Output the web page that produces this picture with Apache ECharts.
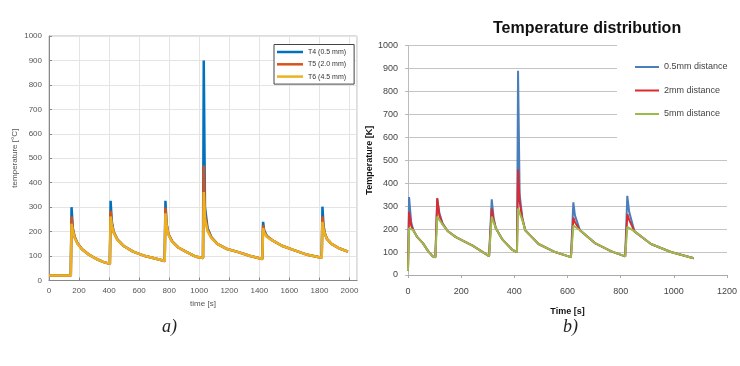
<!DOCTYPE html>
<html>
<head>
<meta charset="utf-8">
<script src="https://cdn.jsdelivr.net/npm/echarts@6/dist/echarts.min.js"></script>
<style>
  html, body { margin: 0; padding: 0; background: #fff; }
  #main { width: 740px; height: 366px; }
</style>
</head>
<body>
<div id="main"></div>
<script>
// a) 测量数据 time [s] / temperature [°C]
var timeA = [0, 145, 150, 158, 170, 190, 220, 260, 310, 360, 405,
    410, 418, 430, 455, 500, 560, 640, 720, 770,
    775, 782, 795, 820, 860, 920, 980, 1025,
    1030, 1038, 1055, 1080, 1120, 1180, 1260, 1340, 1420,
    1425, 1432, 1450, 1490, 1550, 1630, 1720, 1815,
    1820, 1827, 1835, 1850, 1880, 1930, 1990, 2050];
var t4 = [20, 20, 300, 215, 180, 152, 128, 108, 90, 76, 68,
    326, 240, 200, 168, 140, 118, 100, 88, 80,
    326, 235, 190, 160, 135, 115, 97, 92,
    900, 300, 215, 178, 150, 130, 116, 100, 88,
    240, 205, 182, 163, 142, 124, 105, 93,
    302, 225, 195, 170, 150, 132, 118];
var t5 = [20, 20, 262, 210, 178, 151, 128, 108, 90, 76, 68,
    285, 232, 198, 167, 140, 118, 100, 88, 80,
    298, 230, 188, 159, 135, 115, 97, 92,
    470, 270, 208, 176, 150, 130, 116, 100, 88,
    226, 200, 180, 163, 142, 124, 105, 93,
    262, 218, 193, 170, 150, 132, 118];
var t6 = [20, 20, 232, 205, 176, 150, 128, 108, 90, 76, 68,
    262, 226, 196, 166, 140, 118, 100, 88, 80,
    275, 226, 186, 158, 135, 115, 97, 92,
    362, 252, 202, 174, 150, 130, 116, 100, 88,
    215, 196, 178, 163, 142, 124, 105, 93,
    240, 212, 191, 170, 150, 132, 118];

// b) 模拟数据 Time [s] / Temperature [K]
var timeB = [0, 4, 12, 20, 35, 56, 75, 93, 103,
    110, 118, 130, 149, 180, 243, 305, 310,
    315, 322, 330, 355, 392, 410,
    414, 420, 430, 441, 466, 491, 553, 613, 618,
    622, 628, 647, 703, 765, 817, 820,
    825, 832, 852, 914, 989, 1075];
var d05 = [20, 340, 230, 195, 165, 139, 105, 81, 77,
    330, 270, 225, 192, 165, 128, 82, 78,
    330, 250, 205, 155, 110, 100,
    890, 350, 250, 195, 165, 135, 100, 78, 76,
    317, 260, 195, 139, 103, 81, 80,
    345, 275, 190, 135, 100, 73];
var d2 = [20, 275, 215, 195, 165, 139, 105, 81, 77,
    335, 260, 222, 192, 165, 128, 82, 78,
    290, 240, 205, 155, 110, 100,
    460, 320, 245, 195, 165, 135, 100, 78, 76,
    250, 230, 195, 139, 103, 81, 80,
    265, 240, 190, 135, 100, 73];
var d5 = [20, 205, 200, 195, 165, 139, 105, 81, 77,
    255, 240, 220, 192, 165, 128, 82, 78,
    255, 230, 205, 155, 110, 100,
    290, 270, 240, 195, 165, 135, 100, 78, 76,
    215, 210, 195, 139, 103, 81, 80,
    210, 205, 190, 135, 100, 73];

var namesA = ['T4 (0.5 mm)', 'T5 (2.0 mm)', 'T6 (4.5 mm)'];
var namesB = ['0.5mm distance', '2mm distance', '5mm distance'];

function pairs(ts, vs) {
    return ts.map(function (t, i) { return [t, vs[i]]; });
}
// 不要千位分隔符
function plain(v) { return String(v); }

var sans = '"Liberation Sans", Arial, sans-serif';

var chart = echarts.init(document.getElementById('main'), null, {renderer: 'canvas'});

var option = {
    animation: false,
    backgroundColor: '#fff',
    title: {
        text: 'Temperature distribution',
        left: 488, top: 16,
        textStyle: {fontFamily: sans, fontSize: 16, fontWeight: 'bold', color: '#111'}
    },
    legend: [{
        data: namesA,
        orient: 'vertical',
        left: 274, top: 44.5,
        backgroundColor: '#fff',
        borderColor: '#444', borderWidth: 1, borderRadius: 0,
        padding: [3, 8, 3, 3],
        icon: 'rect',
        itemWidth: 26, itemHeight: 2.5, itemGap: 3.3,
        textStyle: {fontFamily: sans, fontSize: 7, lineHeight: 9, color: '#333'}
    }, {
        data: namesB,
        orient: 'vertical',
        left: 617, top: 40,
        backgroundColor: '#fff',
        padding: [21, 15, 25, 18],
        icon: 'rect',
        itemWidth: 24, itemHeight: 2, itemGap: 11.5,
        textStyle: {fontFamily: sans, fontSize: 9, lineHeight: 12, color: '#444'}
    }],
    grid: [
        {left: 49, top: 36, width: 308, height: 244.5, show: true, borderColor: '#bbb', borderWidth: 1},
        {left: 408, top: 45.5, width: 320, height: 229.5}
    ],
    xAxis: [{
        gridIndex: 0, type: 'value', min: 0, max: 2050, interval: 200,
        name: 'time [s]', nameLocation: 'middle', nameGap: 19,
        nameTextStyle: {fontFamily: sans, fontSize: 8, color: '#555'},
        axisLine: {show: true, lineStyle: {color: '#888'}},
        axisTick: {show: true, inside: true, length: 3, lineStyle: {color: '#888'}},
        axisLabel: {fontFamily: sans, fontSize: 8, color: '#555', margin: 6, showMaxLabel: false, formatter: plain},
        splitLine: {show: true, lineStyle: {color: '#e4e4e4'}}
    }, {
        gridIndex: 1, type: 'value', min: 0, max: 1200, interval: 200,
        name: 'Time [s]', nameLocation: 'middle', nameGap: 32,
        nameTextStyle: {fontFamily: sans, fontSize: 9, fontWeight: 'bold', color: '#111'},
        axisLine: {show: true, lineStyle: {color: '#aaa'}},
        axisTick: {show: true, length: 3, lineStyle: {color: '#aaa'}},
        axisLabel: {fontFamily: sans, fontSize: 9, color: '#444', margin: 12, formatter: plain},
        splitLine: {show: false}
    }],
    yAxis: [{
        gridIndex: 0, type: 'value', min: 0, max: 1000, interval: 100,
        name: 'temperature [°C]', nameLocation: 'middle', nameGap: 30,
        nameTextStyle: {fontFamily: sans, fontSize: 8, color: '#555'},
        axisLine: {show: true, lineStyle: {color: '#888'}},
        axisTick: {show: true, inside: true, length: 3, lineStyle: {color: '#888'}},
        axisLabel: {fontFamily: sans, fontSize: 8, color: '#555', margin: 7, formatter: plain},
        splitLine: {show: true, lineStyle: {color: '#e4e4e4'}}
    }, {
        gridIndex: 1, type: 'value', min: 0, max: 1000, interval: 100,
        name: 'Temperature [K]', nameLocation: 'middle', nameGap: 34,
        nameTextStyle: {fontFamily: sans, fontSize: 9, fontWeight: 'bold', color: '#111'},
        axisLine: {show: true, lineStyle: {color: '#bbb'}},
        axisTick: {show: true, length: 3, lineStyle: {color: '#bbb'}},
        axisLabel: {fontFamily: sans, fontSize: 9, color: '#444', margin: 10, formatter: plain},
        splitLine: {show: true, lineStyle: {color: '#c4c4c4', width: 1}}
    }],
    series: [
        {name: namesA[0], type: 'line', xAxisIndex: 0, yAxisIndex: 0, showSymbol: false,
            color: '#0072BD', lineStyle: {width: 2.5}, data: pairs(timeA, t4)},
        {name: namesA[1], type: 'line', xAxisIndex: 0, yAxisIndex: 0, showSymbol: false,
            color: '#D95319', lineStyle: {width: 2.5}, data: pairs(timeA, t5)},
        {name: namesA[2], type: 'line', xAxisIndex: 0, yAxisIndex: 0, showSymbol: false,
            color: '#EDB120', lineStyle: {width: 2.5}, data: pairs(timeA, t6)},
        {name: namesB[0], type: 'line', xAxisIndex: 1, yAxisIndex: 1, showSymbol: false,
            color: '#4A7EBB', lineStyle: {width: 2}, data: pairs(timeB, d05)},
        {name: namesB[1], type: 'line', xAxisIndex: 1, yAxisIndex: 1, showSymbol: false,
            color: '#D92B30', lineStyle: {width: 2}, data: pairs(timeB, d2)},
        {name: namesB[2], type: 'line', xAxisIndex: 1, yAxisIndex: 1, showSymbol: false,
            color: '#9DBB4A', lineStyle: {width: 2}, data: pairs(timeB, d5)}
    ],
    graphic: [
        {type: 'text', left: 162, top: 318,
            style: {text: 'a)', font: 'italic 18px "Liberation Serif", "Times New Roman", serif', fill: '#222'}},
        {type: 'text', left: 563, top: 318,
            style: {text: 'b)', font: 'italic 18px "Liberation Serif", "Times New Roman", serif', fill: '#222'}}
    ]
};
chart.setOption(option, true);
</script>
</body>
</html>
